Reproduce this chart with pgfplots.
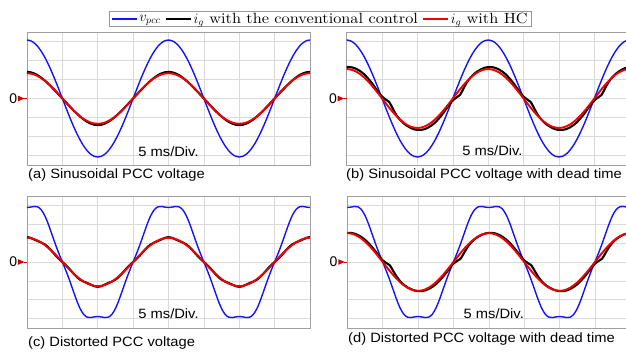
\documentclass[border=0pt]{standalone}
\usepackage{fontspec}
\usepackage{graphicx}
\usepackage{pgfplots}
\pgfplotsset{compat=1.18}
\usepackage{pgfplotstable}
\usetikzlibrary{arrows.meta}
\newfontfamily\arialfont{Liberation Sans}
\newfontfamily\legfont{lmroman10-regular.otf}[FakeStretch=1.10]
\definecolor{gridgray}{RGB}{218,218,218}
\definecolor{framegray}{RGB}{160,160,160}
\definecolor{markred}{RGB}{205,0,0}
\definecolor{vblue}{RGB}{20,20,245}
\definecolor{ired}{RGB}{240,0,0}
\newcommand\lab[1]{\scalebox{1.09}[1]{\arialfont\fontsize{13.5}{15}\selectfont #1}}

% t [ms], v_pcc, i_g conventional, i_g with HC  (values in divisions)
\pgfplotstableread{
t v b r
0 3.080 1.400 1.330
0.5 3.042 1.380 1.314
1 2.929 1.321 1.265
1.5 2.744 1.225 1.185
2 2.492 1.099 1.076
2.5 2.178 0.948 0.941
3 1.810 0.777 0.782
3.5 1.398 0.592 0.604
4 0.952 0.399 0.411
4.5 0.482 0.201 0.208
5 0 0 0
5.5 -0.482 -0.201 -0.208
6 -0.952 -0.399 -0.411
6.5 -1.398 -0.592 -0.604
7 -1.810 -0.777 -0.782
7.5 -2.178 -0.948 -0.941
8 -2.492 -1.099 -1.076
8.5 -2.744 -1.225 -1.185
9 -2.929 -1.321 -1.265
9.5 -3.042 -1.380 -1.314
10 -3.080 -1.400 -1.330
10.5 -3.042 -1.380 -1.314
11 -2.929 -1.321 -1.265
11.5 -2.744 -1.225 -1.185
12 -2.492 -1.099 -1.076
12.5 -2.178 -0.948 -0.941
13 -1.810 -0.777 -0.782
13.5 -1.398 -0.592 -0.604
14 -0.952 -0.399 -0.411
14.5 -0.482 -0.201 -0.208
15 0 0 0
15.5 0.482 0.201 0.208
16 0.952 0.399 0.411
16.5 1.398 0.592 0.604
17 1.810 0.777 0.782
17.5 2.178 0.948 0.941
18 2.492 1.099 1.076
18.5 2.744 1.225 1.185
19 2.929 1.321 1.265
19.5 3.042 1.380 1.314
20 3.080 1.400 1.330
20.5 3.042 1.380 1.314
21 2.929 1.321 1.265
21.5 2.744 1.225 1.185
22 2.492 1.099 1.076
22.5 2.178 0.948 0.941
23 1.810 0.777 0.782
23.5 1.398 0.592 0.604
24 0.952 0.399 0.411
24.5 0.482 0.201 0.208
25 0 0 0
25.5 -0.482 -0.201 -0.208
26 -0.952 -0.399 -0.411
26.5 -1.398 -0.592 -0.604
27 -1.810 -0.777 -0.782
27.5 -2.178 -0.948 -0.941
28 -2.492 -1.099 -1.076
28.5 -2.744 -1.225 -1.185
29 -2.929 -1.321 -1.265
29.5 -3.042 -1.380 -1.314
30 -3.080 -1.400 -1.330
30.5 -3.042 -1.380 -1.314
31 -2.929 -1.321 -1.265
31.5 -2.744 -1.225 -1.185
32 -2.492 -1.099 -1.076
32.5 -2.178 -0.948 -0.941
33 -1.810 -0.777 -0.782
33.5 -1.398 -0.592 -0.604
34 -0.952 -0.399 -0.411
34.5 -0.482 -0.201 -0.208
35 0 0 0
35.5 0.482 0.201 0.208
36 0.952 0.399 0.411
36.5 1.398 0.592 0.604
37 1.810 0.777 0.782
37.5 2.178 0.948 0.941
38 2.492 1.099 1.076
38.5 2.744 1.225 1.185
39 2.929 1.321 1.265
39.5 3.042 1.380 1.314
40 3.080 1.400 1.330
}\tA

\pgfplotstableread{
t v b r
0 3.080 1.655 1.550
0.5 3.042 1.655 1.531
1 2.929 1.614 1.474
1.5 2.744 1.534 1.381
2 2.492 1.415 1.254
2.5 2.178 1.262 1.096
3 1.810 1.060 0.911
3.5 1.398 0.840 0.704
4 0.952 0.580 0.479
4.5 0.482 0.320 0.243
5 0 0.100 0
5.5 -0.482 -0.050 -0.243
6 -0.952 -0.180 -0.479
6.5 -1.398 -0.520 -0.704
7 -1.810 -0.860 -0.911
7.5 -2.178 -1.100 -1.096
8 -2.492 -1.290 -1.254
8.5 -2.744 -1.430 -1.381
9 -2.929 -1.540 -1.474
9.5 -3.042 -1.620 -1.531
10 -3.080 -1.655 -1.550
10.5 -3.042 -1.655 -1.531
11 -2.929 -1.614 -1.474
11.5 -2.744 -1.534 -1.381
12 -2.492 -1.415 -1.254
12.5 -2.178 -1.262 -1.096
13 -1.810 -1.060 -0.911
13.5 -1.398 -0.840 -0.704
14 -0.952 -0.580 -0.479
14.5 -0.482 -0.320 -0.243
15 0 -0.100 0
15.5 0.482 0.050 0.243
16 0.952 0.180 0.479
16.5 1.398 0.520 0.704
17 1.810 0.860 0.911
17.5 2.178 1.100 1.096
18 2.492 1.290 1.254
18.5 2.744 1.430 1.381
19 2.929 1.540 1.474
19.5 3.042 1.620 1.531
20 3.080 1.655 1.550
20.5 3.042 1.655 1.531
21 2.929 1.614 1.474
21.5 2.744 1.534 1.381
22 2.492 1.415 1.254
22.5 2.178 1.262 1.096
23 1.810 1.060 0.911
23.5 1.398 0.840 0.704
24 0.952 0.580 0.479
24.5 0.482 0.320 0.243
25 0 0.100 0
25.5 -0.482 -0.050 -0.243
26 -0.952 -0.180 -0.479
26.5 -1.398 -0.520 -0.704
27 -1.810 -0.860 -0.911
27.5 -2.178 -1.100 -1.096
28 -2.492 -1.290 -1.254
28.5 -2.744 -1.430 -1.381
29 -2.929 -1.540 -1.474
29.5 -3.042 -1.620 -1.531
30 -3.080 -1.655 -1.550
30.5 -3.042 -1.655 -1.531
31 -2.929 -1.614 -1.474
31.5 -2.744 -1.534 -1.381
32 -2.492 -1.415 -1.254
32.5 -2.178 -1.262 -1.096
33 -1.810 -1.060 -0.911
33.5 -1.398 -0.840 -0.704
34 -0.952 -0.580 -0.479
34.5 -0.482 -0.320 -0.243
35 0 -0.100 0
35.5 0.482 0.050 0.243
36 0.952 0.180 0.479
36.5 1.398 0.520 0.704
37 1.810 0.860 0.911
37.5 2.178 1.100 1.096
38 2.492 1.290 1.254
38.5 2.744 1.430 1.381
39 2.929 1.540 1.474
39.5 3.042 1.620 1.531
40 3.080 1.655 1.550
}\tB

\pgfplotstableread{
t v b r
0 2.890 1.320 1.280
0.5 2.911 1.284 1.264
1 2.946 1.197 1.217
1.5 2.925 1.111 1.141
2 2.777 1.036 1.036
2.5 2.468 0.935 0.905
3 2.018 0.782 0.752
3.5 1.490 0.581 0.581
4 0.957 0.366 0.396
4.5 0.461 0.170 0.200
5 0 0 0
5.5 -0.461 -0.170 -0.200
6 -0.957 -0.366 -0.396
6.5 -1.490 -0.581 -0.581
7 -2.018 -0.782 -0.752
7.5 -2.468 -0.935 -0.905
8 -2.777 -1.036 -1.036
8.5 -2.925 -1.111 -1.141
9 -2.946 -1.197 -1.217
9.5 -2.911 -1.284 -1.264
10 -2.890 -1.320 -1.280
10.5 -2.911 -1.284 -1.264
11 -2.946 -1.197 -1.217
11.5 -2.925 -1.111 -1.141
12 -2.777 -1.036 -1.036
12.5 -2.468 -0.935 -0.905
13 -2.018 -0.782 -0.752
13.5 -1.490 -0.581 -0.581
14 -0.957 -0.366 -0.396
14.5 -0.461 -0.170 -0.200
15 0 0 0
15.5 0.461 0.170 0.200
16 0.957 0.366 0.396
16.5 1.490 0.581 0.581
17 2.018 0.782 0.752
17.5 2.468 0.935 0.905
18 2.777 1.036 1.036
18.5 2.925 1.111 1.141
19 2.946 1.197 1.217
19.5 2.911 1.284 1.264
20 2.890 1.320 1.280
20.5 2.911 1.284 1.264
21 2.946 1.197 1.217
21.5 2.925 1.111 1.141
22 2.777 1.036 1.036
22.5 2.468 0.935 0.905
23 2.018 0.782 0.752
23.5 1.490 0.581 0.581
24 0.957 0.366 0.396
24.5 0.461 0.170 0.200
25 0 0 0
25.5 -0.461 -0.170 -0.200
26 -0.957 -0.366 -0.396
26.5 -1.490 -0.581 -0.581
27 -2.018 -0.782 -0.752
27.5 -2.468 -0.935 -0.905
28 -2.777 -1.036 -1.036
28.5 -2.925 -1.111 -1.141
29 -2.946 -1.197 -1.217
29.5 -2.911 -1.284 -1.264
30 -2.890 -1.320 -1.280
30.5 -2.911 -1.284 -1.264
31 -2.946 -1.197 -1.217
31.5 -2.925 -1.111 -1.141
32 -2.777 -1.036 -1.036
32.5 -2.468 -0.935 -0.905
33 -2.018 -0.782 -0.752
33.5 -1.490 -0.581 -0.581
34 -0.957 -0.366 -0.396
34.5 -0.461 -0.170 -0.200
35 0 0 0
35.5 0.461 0.170 0.200
36 0.957 0.366 0.396
36.5 1.490 0.581 0.581
37 2.018 0.782 0.752
37.5 2.468 0.935 0.905
38 2.777 1.036 1.036
38.5 2.925 1.111 1.141
39 2.946 1.197 1.217
39.5 2.911 1.284 1.264
40 2.890 1.320 1.280
}\tC

\pgfplotstableread{
t v b r
0 2.890 1.545 1.530
0.5 2.911 1.545 1.511
1 2.946 1.507 1.455
1.5 2.925 1.432 1.363
2 2.777 1.322 1.238
2.5 2.468 1.179 1.082
3 2.018 1.000 0.899
3.5 1.490 0.790 0.695
4 0.957 0.560 0.473
4.5 0.461 0.310 0.239
5 0 0.090 0
5.5 -0.461 -0.050 -0.239
6 -0.957 -0.170 -0.473
6.5 -1.490 -0.480 -0.695
7 -2.018 -0.790 -0.899
7.5 -2.468 -1.030 -1.082
8 -2.777 -1.210 -1.238
8.5 -2.925 -1.340 -1.363
9 -2.946 -1.440 -1.455
9.5 -2.911 -1.510 -1.511
10 -2.890 -1.545 -1.530
10.5 -2.911 -1.545 -1.511
11 -2.946 -1.507 -1.455
11.5 -2.925 -1.432 -1.363
12 -2.777 -1.322 -1.238
12.5 -2.468 -1.179 -1.082
13 -2.018 -1.000 -0.899
13.5 -1.490 -0.790 -0.695
14 -0.957 -0.560 -0.473
14.5 -0.461 -0.310 -0.239
15 0 -0.090 0
15.5 0.461 0.050 0.239
16 0.957 0.170 0.473
16.5 1.490 0.480 0.695
17 2.018 0.790 0.899
17.5 2.468 1.030 1.082
18 2.777 1.210 1.238
18.5 2.925 1.340 1.363
19 2.946 1.440 1.455
19.5 2.911 1.510 1.511
20 2.890 1.545 1.530
20.5 2.911 1.545 1.511
21 2.946 1.507 1.455
21.5 2.925 1.432 1.363
22 2.777 1.322 1.238
22.5 2.468 1.179 1.082
23 2.018 1.000 0.899
23.5 1.490 0.790 0.695
24 0.957 0.560 0.473
24.5 0.461 0.310 0.239
25 0 0.090 0
25.5 -0.461 -0.050 -0.239
26 -0.957 -0.170 -0.473
26.5 -1.490 -0.480 -0.695
27 -2.018 -0.790 -0.899
27.5 -2.468 -1.030 -1.082
28 -2.777 -1.210 -1.238
28.5 -2.925 -1.340 -1.363
29 -2.946 -1.440 -1.455
29.5 -2.911 -1.510 -1.511
30 -2.890 -1.545 -1.530
30.5 -2.911 -1.545 -1.511
31 -2.946 -1.507 -1.455
31.5 -2.925 -1.432 -1.363
32 -2.777 -1.322 -1.238
32.5 -2.468 -1.179 -1.082
33 -2.018 -1.000 -0.899
33.5 -1.490 -0.790 -0.695
34 -0.957 -0.560 -0.473
34.5 -0.461 -0.310 -0.239
35 0 -0.090 0
35.5 0.461 0.050 0.239
36 0.957 0.170 0.473
36.5 1.490 0.480 0.695
37 2.018 0.790 0.899
37.5 2.468 1.030 1.082
38 2.777 1.210 1.238
38.5 2.925 1.340 1.363
39 2.946 1.440 1.455
39.5 2.911 1.510 1.511
40 2.890 1.545 1.530
}\tD

\pgfplotsset{
  scope/.style={
    scale only axis, width=283pt, height=#1,
    xmin=0, xmax=40, ymin=-3.5, ymax=3.5,
    xtick={0,5,...,40}, ytick={-3,-2,...,3},
    xticklabels={}, yticklabels={},
    major tick length=0pt,
    grid=major, major grid style={gridgray, line width=0.5pt},
    axis line style={framegray, line width=0.8pt},
    clip mode=individual,
  },
  vline/.style={vblue, line width=1.4pt, smooth},
  bline/.style={black, line width=2.1pt, smooth},
  rline/.style={ired, line width=1.9pt, smooth},
}
\newcommand\zeromark{%
  \fill[markred] ([xshift=-9pt,yshift=2.8pt]axis cs:0,0) -- ([xshift=-2.5pt]axis cs:0,0)
     -- ([xshift=-9pt,yshift=-2.8pt]axis cs:0,0) -- cycle;
  \draw[markred, line width=0.9pt] ([xshift=-3pt]axis cs:0,0) -- (axis cs:0,0);
  \node[anchor=east, inner sep=0pt, font=\arialfont\fontsize{14}{14}\selectfont]
     at ([xshift=-9.6pt]axis cs:0,0) {0};}

\begin{document}
\begin{tikzpicture}[x=1pt,y=1pt]
\useasboundingbox (0,0) rectangle (626,354);
\clip (0,0) rectangle (626,354);

% (a)
\begin{axis}[scope=133pt, at={(27pt,189pt)}, anchor=south west,
  legend columns=3,
  legend style={at={(1.0367,1.0993)}, anchor=center, draw=gray!80, line width=0.6pt,
    fill=white, font=\legfont\fontsize{14.8}{17}\selectfont, inner xsep=2pt, inner ysep=0.5pt,
    nodes={inner sep=1.5pt},
    /tikz/every even column/.append style={column sep=3pt}},
  legend cell align=left,
  legend image code/.code={\draw[#1] (0pt,0pt) -- (25pt,0pt);}]
\addplot[vline] table[x=t,y=v]{\tA};
\addlegendentry{$v_{pcc}$}
\addplot[bline] table[x=t,y=b]{\tA};
\addlegendentry{$i_g$ with the conventional control}
\addplot[rline] table[x=t,y=r]{\tA};
\addlegendentry{$i_g$ with HC}
\zeromark
\node at (axis cs:20,-2.8) {\lab{5 ms/Div.}};
\end{axis}

% (b)
\begin{axis}[scope=133pt, at={(346.7pt,189pt)}, anchor=south west]
\addplot[vline] table[x=t,y=v]{\tB};
\addplot[bline] table[x=t,y=b]{\tB};
\addplot[rline] table[x=t,y=r]{\tB};
\zeromark
\node at (axis cs:20.6,-2.75) {\lab{5 ms/Div.}};
\end{axis}

% (c)
\begin{axis}[scope=132pt, at={(27pt,26pt)}, anchor=south west]
\addplot[vline] table[x=t,y=v]{\tC};
\addplot[bline] table[x=t,y=b]{\tC};
\addplot[rline] table[x=t,y=r]{\tC};
\zeromark
\node at (axis cs:20,-2.75) {\lab{5 ms/Div.}};
\end{axis}

% (d)
\begin{axis}[scope=132pt, at={(347.3pt,26pt)}, anchor=south west]
\addplot[vline] table[x=t,y=v]{\tD};
\addplot[bline] table[x=t,y=b]{\tD};
\addplot[rline] table[x=t,y=r]{\tD};
\zeromark
\node at (axis cs:20.7,-2.75) {\lab{5 ms/Div.}};
\end{axis}

\node[anchor=west, inner sep=0pt] at (28pt,178.5pt) {\lab{(a) Sinusoidal PCC voltage}};
\node[anchor=west, inner sep=0pt] at (346pt,178.5pt) {\lab{(b) Sinusoidal PCC voltage with dead time}};
\node[anchor=west, inner sep=0pt] at (28pt,10.7pt) {\lab{(c) Distorted PCC voltage}};
\node[anchor=west, inner sep=0pt] at (348pt,15pt) {\lab{(d) Distorted PCC voltage with dead time}};
\end{tikzpicture}
\end{document}
